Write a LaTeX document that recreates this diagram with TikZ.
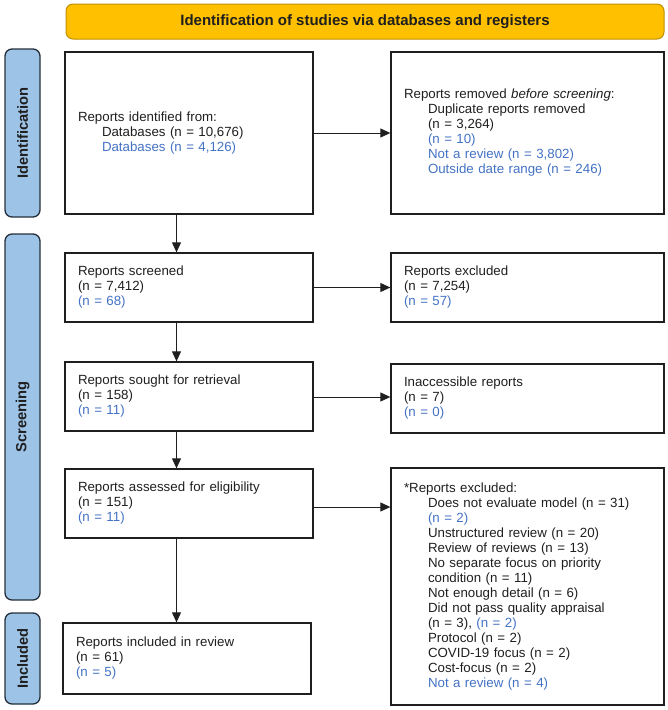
\documentclass[tikz,border=0pt]{standalone}
\usepackage{fontspec}
\setmainfont{Liberation Sans}
\usetikzlibrary{arrows.meta,calc}
\definecolor{blu}{HTML}{4472C4}
\definecolor{ink}{HTML}{1F1F1F}
\definecolor{bannerfill}{HTML}{FFC000}
\definecolor{bannerline}{HTML}{BF9000}
\definecolor{tabfill}{HTML}{9DC3E6}
\definecolor{tabline}{HTML}{26303C}
\newcommand{\indt}{\hspace*{24pt}}
\newcommand{\bluetxt}[1]{\textcolor{blu}{#1}}
\begin{document}
\begin{tikzpicture}[x=1pt,y=-1pt,
  every node/.style={font=\fontsize{13.3}{15}\selectfont, text=ink},
  leftbox/.style={draw=ink, line width=1.3pt, rectangle, inner xsep=13pt, inner ysep=0pt,
     align=left, text width=222pt, minimum width=248pt, minimum height=#1},
  rightbox/.style={draw=ink, line width=1.3pt, rectangle, inner xsep=13pt, inner ysep=0pt,
     align=left, text width=247pt, minimum width=273pt, minimum height=#1},
  tabbox/.style={draw=tabline, fill=tabfill, line width=1.3pt, rounded corners=7pt, rotate=90,
     minimum height=35pt, minimum width=#1, inner sep=0pt,
     font=\fontsize{14.7}{16}\selectfont\bfseries},
  banner/.style={draw=bannerline, fill=bannerfill, line width=1pt, rounded corners=7pt,
     minimum width=598pt, minimum height=35pt, inner sep=0pt,
     font=\fontsize{15}{16}\selectfont\bfseries},
  flowarrow/.style={draw=ink, line width=0.9pt, -{Triangle[length=10pt,width=9pt]}}]
\useasboundingbox (0,0) rectangle (668,710);

% banner
\node[banner] (ban) at (365,21.5) {Identification of studies via databases and registers};

% side tabs
\node[tabbox=168pt] (tid) at (22.5,133) {Identification};
\node[tabbox=366pt] (tsc) at (22.5,417) {Screening};
\node[tabbox=91pt] (tin) at (22.5,658.5) {Included};

% left column
\node[leftbox=162pt] (ident) at (189,133) {Reports identified from:\\
\indt Databases (n = 10,676)\\
\indt \bluetxt{Databases (n = 4,126)}};
\node[leftbox=69pt] (screen) at (189,287.5) {Reports screened\\
(n = 7,412)\\
\bluetxt{(n = 68)}};
\node[leftbox=69pt] (sought) at (189,396.5) {Reports sought for retrieval\\
(n = 158)\\
\bluetxt{(n = 11)}};
\node[leftbox=69pt] (assess) at (189,503.5) {Reports assessed for eligibility\\
(n = 151)\\
\bluetxt{(n = 11)}};
\node[leftbox=71pt] (incl) at (187,658.5) {Reports included in review\\
(n = 61)\\
\bluetxt{(n = 5)}};

% right column
\node[rightbox=162pt] (removed) at (527.5,133) {Reports removed \textit{before screening}:\\
\indt Duplicate reports removed\\
\indt (n = 3,264)\\
\indt \bluetxt{(n = 10)}\\
\indt \bluetxt{Not a review (n = 3,802)}\\
\indt \bluetxt{Outside date range (n = 246)}};
\node[rightbox=69pt] (excl) at (527.5,287.5) {Reports excluded\\
(n = 7,254)\\
\bluetxt{(n = 57)}};
\node[rightbox=69pt] (inacc) at (527.5,398.5) {Inaccessible reports\\
(n = 7)\\
\bluetxt{(n = 0)}};
\node[rightbox=237pt] (exclb) at (527.5,586.5) {*Reports excluded:\\
\indt Does not evaluate model (n = 31)\\
\indt \bluetxt{(n = 2)}\\
\indt Unstructured review (n = 20)\\
\indt Review of reviews (n = 13)\\
\indt No separate focus on priority\\
\indt condition (n = 11)\\
\indt Not enough detail (n = 6)\\
\indt Did not pass quality appraisal\\
\indt (n = 3), \bluetxt{(n = 2)}\\
\indt Protocol (n = 2)\\
\indt COVID-19 focus (n = 2)\\
\indt Cost-focus (n = 2)\\
\indt \bluetxt{Not a review (n = 4)}};

% connectors
\coordinate (col) at (176.5,0);
\coordinate (soughtout) at ($(sought.east)+(0,0.5)$);
\coordinate (assessout) at ($(assess.east)+(0,3.5)$);
\draw[flowarrow] (ident.east) -- (removed.west);
\draw[flowarrow] (screen.east) -- (excl.west);
\draw[flowarrow] (soughtout) -- (soughtout -| inacc.west);
\draw[flowarrow] (assessout) -- (assessout -| exclb.west);
\draw[flowarrow] (ident.south -| col) -- (screen.north -| col);
\draw[flowarrow] (screen.south -| col) -- (sought.north -| col);
\draw[flowarrow] (sought.south -| col) -- (assess.north -| col);
\draw[flowarrow] (assess.south -| col) -- (incl.north -| col);
\end{tikzpicture}
\end{document}
